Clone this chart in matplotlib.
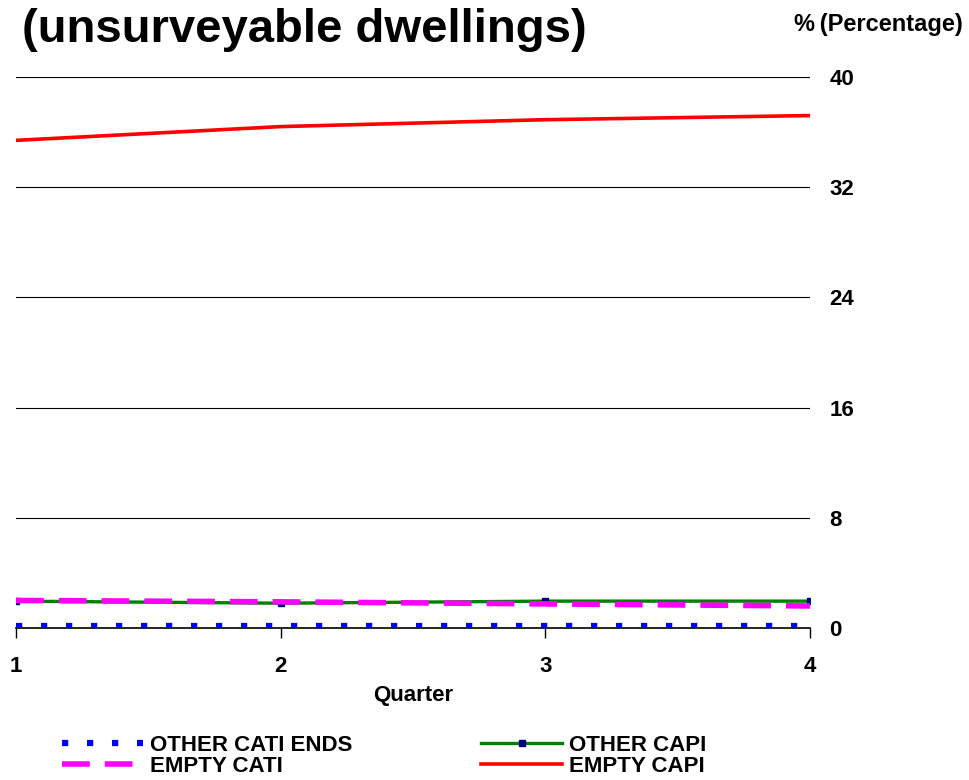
import matplotlib
matplotlib.use("Agg")
import matplotlib.pyplot as plt

plt.rcParams['font.family'] = ['Liberation Sans', 'DejaVu Sans']
plt.rcParams['font.weight'] = 'bold'

quarters = [1, 2, 3, 4]
other_cati_ends = [0.15, 0.15, 0.15, 0.15]
empty_cati = [2.0, 1.9, 1.75, 1.6]
other_capi = [1.95, 1.8, 1.95, 1.95]
empty_capi = [35.4, 36.4, 36.9, 37.2]
yticks = [0, 8, 16, 24, 32, 40]

fig = plt.figure(figsize=(9.7, 7.8), dpi=100)
ax = fig.add_axes([16/970, 1-628/780, (810-16)/970, (628-77)/780])

ax.plot(quarters, other_cati_ends, color='#0000ff', lw=4.5, dashes=(1, 3),
        dash_capstyle='butt', label='OTHER CATI ENDS', zorder=3)
ax.plot(quarters, empty_cati, color='#ff00ff', lw=4.0, dashes=(5, 2.7),
        dash_capstyle='butt', label='EMPTY CATI', zorder=4)
ax.plot(quarters, other_capi, color='#008000', lw=2.4, marker='s', ms=4.5,
        mfc='#000080', mec='#000080', label='OTHER CAPI', zorder=3)
ax.plot(quarters, empty_capi, color='#ff0000', lw=2.6, label='EMPTY CAPI', zorder=3)

ax.set_xlim(1, 4)
ax.set_ylim(0, 40)
ax.set_xticks(quarters)
ax.set_yticks(yticks)
ax.yaxis.tick_right()
ax.tick_params(axis='y', length=0, pad=14, labelsize=16)
ax.tick_params(axis='x', length=7, width=1, direction='out', pad=13, labelsize=16)
ax.grid(axis='y', color='#000000', lw=0.8)
ax.set_axisbelow(True)
for s in ['top', 'left', 'right']:
    ax.spines[s].set_visible(False)
ax.spines['bottom'].set_color('black')
ax.spines['bottom'].set_linewidth(1.2)
ax.set_xlabel('Quarter', fontsize=16, fontweight='bold', labelpad=6)

fig.text(22/970, 1-30/780, '(unsurveyable dwellings)', fontsize=34,
         fontweight='bold', ha='left', va='center')
fig.text(963/970, 1-24/780, '%\u2009(Percentage)', fontsize=17,
         fontweight='bold', ha='right', va='center')

fig.legend(loc='upper left', bbox_to_anchor=(62/970, 1-735/780), ncol=2,
           frameon=False, fontsize=16, handlelength=3.65, handletextpad=0.3,
           columnspacing=5.8, labelspacing=0.0, borderpad=0, borderaxespad=0)

fig.savefig('out.png', dpi=100)
